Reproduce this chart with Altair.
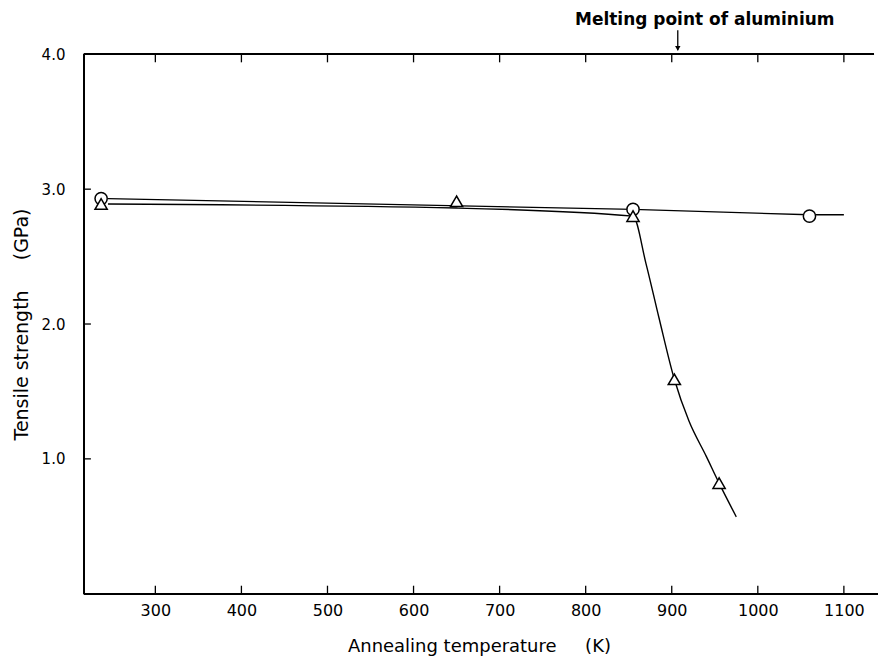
import altair as alt
import pandas as pd

# ---- data ----
circle_T = [237, 855, 1060]
circle_S = [2.93, 2.85, 2.80]

tri_T = [237, 650, 855, 903, 955]
tri_S = [2.89, 2.91, 2.80, 1.59, 0.82]

circle_fit_T = [245, 855, 1060, 1100]
circle_fit_S = [2.93, 2.85, 2.81, 2.81]

tri_fit_T = [245, 650, 855, 870, 885, 903, 920, 940, 955, 975]
tri_fit_S = [2.89, 2.86, 2.80, 2.45, 2.05, 1.59, 1.28, 1.02, 0.82, 0.57]

x_ticks = [300, 400, 500, 600, 700, 800, 900, 1000, 1100]
y_ticks = [1.0, 2.0, 3.0, 4.0]

melt_T = [907]
melt_label = ["Melting point of aluminium"]

X_DOMAIN = [217, 1135]
Y_DOMAIN = [0, 4]
W, H = 791, 540
FONT = "DejaVu Sans"
NB = "\u00a0"

xs = alt.Scale(domain=X_DOMAIN, nice=False, zero=False)
ys = alt.Scale(domain=Y_DOMAIN, nice=False, zero=False)

circ_df = pd.DataFrame({"T": circle_T, "S": circle_S})
tri_df = pd.DataFrame({"T": tri_T, "S": tri_S})
cfit_df = pd.DataFrame({"T": circle_fit_T, "S": circle_fit_S, "o": range(len(circle_fit_T))})
tfit_df = pd.DataFrame({"T": tri_fit_T, "S": tri_fit_S, "o": range(len(tri_fit_T))})
xt_df = pd.DataFrame({"T": x_ticks})
yt_df = pd.DataFrame({"S": y_ticks})
melt_df = pd.DataFrame({"T": melt_T, "label": melt_label})

x_axis = alt.Axis(
    values=x_ticks, format="d", title="Annealing temperature" + NB * 5 + "(K)",
    ticks=False, domain=False, grid=False, labelFont=FONT, labelFontSize=16,
    labelColor="black", labelPadding=9, titleFont=FONT, titleFontSize=18,
    titleFontWeight="normal", titleColor="black", titlePadding=19,
)
y_axis = alt.Axis(
    values=y_ticks, title="Tensile strength" + NB * 5 + "(GPa)", ticks=False,
    domain=False, grid=False, format=".1f", labelFont=FONT, labelFontSize=15,
    labelColor="black", labelPadding=19, titleFont=FONT, titleFontSize=19,
    titleFontWeight="normal", titleColor="black", titlePadding=10,
)

base_lines = alt.Chart(cfit_df).mark_line(color="black", strokeWidth=1.4).encode(
    x=alt.X("T:Q", scale=xs, axis=x_axis),
    y=alt.Y("S:Q", scale=ys, axis=y_axis),
    order="o:Q",
)
tri_lines = alt.Chart(tfit_df).mark_line(color="black", strokeWidth=1.4, interpolate="monotone").encode(
    x=alt.X("T:Q", scale=xs), y=alt.Y("S:Q", scale=ys), order="o:Q",
)
circ_pts = alt.Chart(circ_df).mark_point(
    shape="circle", filled=True, fill="white", stroke="black", strokeWidth=1.5, size=150, opacity=1
).encode(x=alt.X("T:Q", scale=xs), y=alt.Y("S:Q", scale=ys))
tri_pts = alt.Chart(tri_df).mark_point(
    shape="triangle-up", filled=True, fill="white", stroke="black", strokeWidth=1.5, size=150, opacity=1
).encode(x=alt.X("T:Q", scale=xs), y=alt.Y("S:Q", scale=ys))

# frame lines (left, bottom, top)
left_line = alt.Chart(xt_df).mark_rule(color="black", strokeWidth=1.5).encode(
    x=alt.value(0), y=alt.value(0), y2=alt.value(H))
bottom_line = alt.Chart(xt_df).mark_rule(color="black", strokeWidth=1.5).encode(
    x=alt.value(0), x2=alt.value(W + 12), y=alt.value(H))
top_line = alt.Chart(xt_df).mark_rule(color="black", strokeWidth=1.5).encode(
    x=alt.value(0), x2=alt.value(W), y=alt.value(0))

# inward ticks
bot_ticks = alt.Chart(xt_df).mark_rule(color="black", strokeWidth=1.3).encode(
    x=alt.X("T:Q", scale=xs), y=alt.value(H - 8), y2=alt.value(H))
top_ticks = alt.Chart(xt_df).mark_rule(color="black", strokeWidth=1.3).encode(
    x=alt.X("T:Q", scale=xs), y=alt.value(0), y2=alt.value(8))
left_ticks = alt.Chart(yt_df).mark_rule(color="black", strokeWidth=1.3).encode(
    y=alt.Y("S:Q", scale=ys), x=alt.value(0), x2=alt.value(7))

# melting point annotation
melt_text = alt.Chart(melt_df).mark_text(
    font=FONT, fontSize=17, fontWeight="bold", color="black", align="center",
    baseline="alphabetic", dx=27
).encode(x=alt.X("T:Q", scale=xs), y=alt.value(-29), text="label:N")
melt_shaft = alt.Chart(melt_df).mark_rule(color="black", strokeWidth=1.3).encode(
    x=alt.X("T:Q", scale=xs), y=alt.value(-24), y2=alt.value(-4))
melt_head = alt.Chart(melt_df).mark_point(
    shape="triangle-down", filled=True, color="black", size=30, opacity=1
).encode(x=alt.X("T:Q", scale=xs), y=alt.value(-6))

chart = alt.layer(
    base_lines, tri_lines, left_line, bottom_line, top_line,
    bot_ticks, top_ticks, left_ticks,
    circ_pts, tri_pts, melt_text, melt_shaft, melt_head,
).properties(
    width=W, height=H,
    padding={"left": 76, "top": 46, "right": 4, "bottom": 76},
    autosize=alt.AutoSizeParams(type="none"),
    background="white",
).configure_view(stroke=None)

chart.save("out.html", embed_options={"renderer": "svg", "actions": False})
